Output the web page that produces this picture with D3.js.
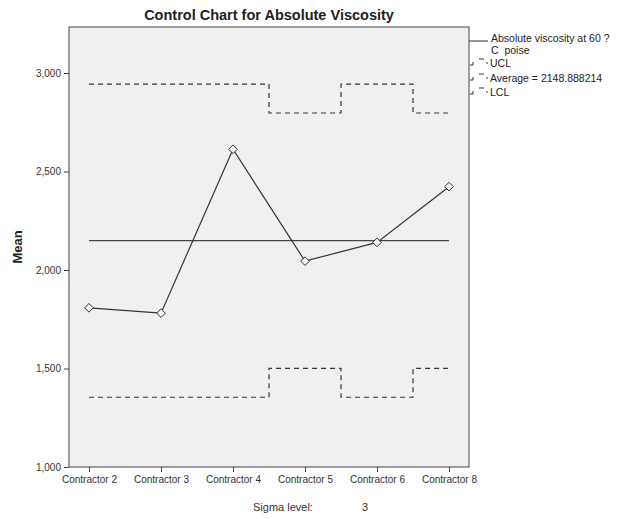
<!DOCTYPE html>
<html><head><meta charset="utf-8">
<script src="https://cdn.jsdelivr.net/npm/d3@7"></script>
<style>body{margin:0;background:#fff;font-family:"Liberation Sans",Arial,sans-serif;} text{white-space:pre;}</style>
</head><body>
<script>
const categories = ["Contractor 2","Contractor 3","Contractor 4","Contractor 5","Contractor 6","Contractor 8"];
const means = [1808, 1781, 2613, 2045, 2140, 2423];
const ucl = [2944, 2944, 2944, 2797, 2944, 2797];
const lcl = [1354, 1354, 1354, 1501, 1354, 1501];
const average = 2148.888214;
const yTicks = [1000, 1500, 2000, 2500, 3000];
const legendLabels = ["Absolute viscosity at 60 ?", "C  poise", "UCL", "Average = 2148.888214", "LCL"];

const W = 621, H = 519;
const svg = d3.select("body").append("svg").attr("width", W).attr("height", H);
const L = 69, R = 469, T = 27, B = 467;

const x = d3.scalePoint().domain(categories).range([89, 449]);
const y = d3.scaleLinear().domain([1000, 3000]).range([B, 73]);

svg.append("rect").attr("x", L).attr("y", T).attr("width", R - L).attr("height", B - T)
  .attr("fill", "#f0f0f0").attr("stroke", "#444").attr("stroke-width", 1);

// title
svg.append("text").attr("x", 269).attr("y", 20).attr("text-anchor", "middle")
  .attr("font-size", 14.5).attr("font-weight", "bold").attr("fill", "#222")
  .text("Control Chart for Absolute Viscosity");

// y axis
const ya = svg.append("g").attr("transform", `translate(${L},0)`)
  .call(d3.axisLeft(y).tickValues(yTicks).tickFormat(d3.format(",")).tickSize(5).tickSizeOuter(0));
ya.select(".domain").remove();
ya.selectAll("line").attr("stroke", "#444");
ya.selectAll("text").attr("font-size", 10).attr("fill", "#333").attr("font-family", "Liberation Sans, Arial");

// x axis
const xa = svg.append("g").attr("transform", `translate(0,${B})`)
  .call(d3.axisBottom(x).tickSize(5).tickSizeOuter(0).tickPadding(4));
xa.select(".domain").remove();
xa.selectAll("line").attr("stroke", "#444");
xa.selectAll("text").attr("font-size", 10).attr("fill", "#333").attr("font-family", "Liberation Sans, Arial");

// y label
svg.append("text").attr("transform", "translate(22,247) rotate(-90)").attr("text-anchor", "middle")
  .attr("font-size", 13).attr("font-weight", "bold").attr("fill", "#222").text("Mean");

// sigma level
svg.append("text").attr("x", 253).attr("y", 511).attr("font-size", 11).attr("fill", "#333").text("Sigma level:");
svg.append("text").attr("x", 362).attr("y", 511).attr("font-size", 11).attr("fill", "#333").text("3");

const stepLine = d3.line().x((d, i) => x(categories[i])).y(d => y(d)).curve(d3.curveStep);
svg.append("path").attr("d", stepLine(ucl)).attr("fill", "none").attr("stroke", "#333")
  .attr("stroke-width", 1.2).attr("stroke-dasharray", "5,4");
svg.append("path").attr("d", stepLine(lcl)).attr("fill", "none").attr("stroke", "#333")
  .attr("stroke-width", 1.2).attr("stroke-dasharray", "5,4");

// average line
svg.append("line").attr("x1", x(categories[0])).attr("x2", x(categories[categories.length - 1]))
  .attr("y1", y(average)).attr("y2", y(average)).attr("stroke", "#444").attr("stroke-width", 1.2);

// mean line
const ml = d3.line().x((d, i) => x(categories[i])).y(d => y(d));
svg.append("path").attr("d", ml(means)).attr("fill", "none").attr("stroke", "#333").attr("stroke-width", 1.2);
svg.selectAll(".pt").data(means).enter().append("path")
  .attr("transform", (d, i) => `translate(${x(categories[i])},${y(d)})`)
  .attr("d", d3.symbol().type(d3.symbolDiamond2).size(48))
  .attr("fill", "#f0f0f0").attr("stroke", "#333").attr("stroke-width", 1);

// legend
const lg = svg.append("g");
lg.append("line").attr("x1", 469).attr("x2", 488).attr("y1", 41).attr("y2", 41).attr("stroke", "#333");
lg.append("text").attr("x", 491).attr("y", 42).attr("font-size", 10.5).attr("fill", "#222").text(legendLabels[0]);
lg.append("text").attr("x", 491).attr("y", 53.5).attr("font-size", 10.5).attr("fill", "#222").text(legendLabels[1]);
const dashRows = [[63, legendLabels[2]], [78, legendLabels[3]], [92, legendLabels[4]]];
dashRows.forEach(([yy, t]) => {
  lg.append("path").attr("d", `M470,${yy + 2}h3v-3 M479,${yy - 4}h5 M486,${yy}h2`)
    .attr("fill", "none").attr("stroke", "#333");
  lg.append("text").attr("x", 490).attr("y", yy + 4).attr("font-size", 10.5).attr("fill", "#222").text(t);
});
</script>
</body></html>
